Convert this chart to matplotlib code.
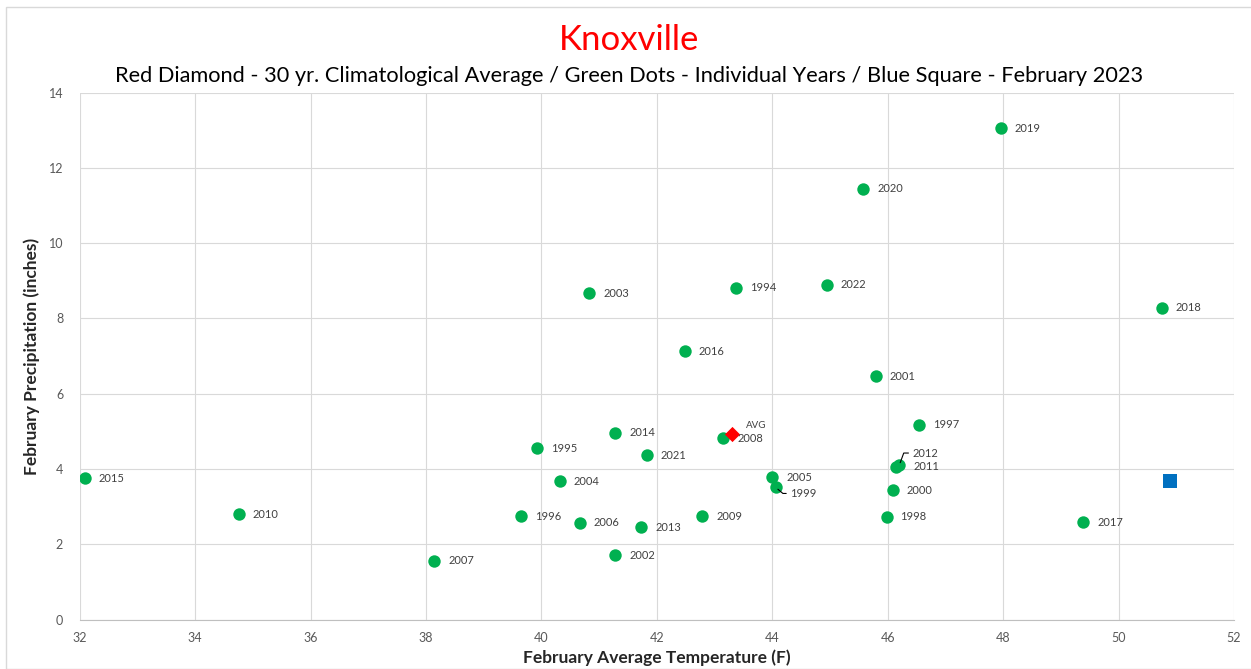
import matplotlib

matplotlib.use("Agg")
import matplotlib.pyplot as plt
from matplotlib.patches import Rectangle

plt.rcParams["font.family"] = ["Lato", "DejaVu Sans"]

# Individual years: February average temperature (F) and precipitation (in)
years = [
    "1994", "1995", "1996", "1997", "1998", "1999", "2000", "2001", "2002",
    "2003", "2004", "2005", "2006", "2007", "2008", "2009", "2010", "2011",
    "2012", "2013", "2014", "2015", "2016", "2017", "2018", "2019", "2020",
    "2021", "2022",
]
temps = [
    43.37, 39.93, 39.65, 46.54, 45.98, 44.06, 46.09, 45.79, 41.28,
    40.83, 40.32, 44.00, 40.66, 38.14, 43.15, 42.79, 34.76, 46.15,
    46.20, 41.73, 41.28, 32.09, 42.48, 49.39, 50.75, 47.96, 45.58,
    41.82, 44.94,
]
precip = [
    8.81, 4.55, 2.75, 5.18, 2.73, 3.51, 3.43, 6.47, 1.71,
    8.67, 3.67, 3.78, 2.57, 1.56, 4.82, 2.75, 2.80, 4.06,
    4.10, 2.45, 4.96, 3.76, 7.13, 2.59, 8.28, 13.05, 11.44,
    4.36, 8.89,
]

avg_temp, avg_precip = 43.30, 4.93
cur_temp, cur_precip = 50.89, 3.67

# label offsets (points) that differ from the default right-of-point spot
special_offsets = {"2012": (9.6, 8.8), "2011": (12.0, 0.0), "1999": (10.5, -4.3)}
leader_angles = {"2012": 70, "1999": -40}

fig = plt.figure(figsize=(12.51, 6.69), dpi=100)
ax = fig.add_axes([0.0638, 0.0738, 0.9226, 0.7879])

grid_c = "#d9d9d9"
ax.scatter(temps, precip, s=80, color="#00B050", zorder=3, linewidths=0)
ax.scatter([avg_temp], [avg_precip], s=60, marker="D", color="#FF0000",
           zorder=4, linewidths=0)
ax.scatter([cur_temp], [cur_precip], s=95, marker="s", color="#0070C0",
           zorder=4, linewidths=0)

for yr, x, y in zip(years, temps, precip):
    off = special_offsets.get(yr, (10, 0))
    kw = {}
    if yr in leader_angles:
        kw["arrowprops"] = dict(
            arrowstyle="-", color="black", lw=0.8, shrinkA=1, shrinkB=2,
            relpos=(0, 0.5),
            connectionstyle=f"angle,angleA=0,angleB={leader_angles[yr]},rad=0",
        )
    ax.annotate(yr, (x, y), xytext=off, textcoords="offset points",
                fontsize=8, color="#404040", ha="left", va="center",
                zorder=5, **kw)

ax.annotate("AVG", (avg_temp, avg_precip), xytext=(10, 6),
            textcoords="offset points", fontsize=7, color="#404040",
            ha="left", va="center")

ax.set_xlim(32, 52)
ax.set_ylim(0, 14)
ax.set_xticks(range(32, 53, 2))
ax.set_yticks(range(0, 15, 2))
ax.grid(True, color=grid_c, lw=0.8)
ax.set_axisbelow(True)
for side in ("top", "right", "left"):
    ax.spines[side].set_visible(False)
ax.spines["bottom"].set_color("#bfbfbf")
ax.tick_params(length=0, labelsize=9, labelcolor="#595959")
ax.tick_params(axis="y", pad=12)
ax.tick_params(axis="x", pad=9)

ax.set_xlabel("February Average Temperature (F)", fontsize=12.5,
              fontweight="bold", color="#262626", labelpad=4)
ax.set_ylabel("February Precipitation (inches)", fontsize=12.5,
              fontweight="bold", color="#262626", labelpad=6)

fig.text(0.503, 0.940, "Knoxville", fontsize=25, color="#FF0000",
         ha="center", va="center")
fig.text(0.503, 0.886,
         "Red Diamond - 30 yr. Climatological Average / Green Dots - "
         "Individual Years / Blue Square - February 2023",
         fontsize=15.7, color="black", ha="center", va="center")

fig.patches.append(Rectangle((0.005, 0.0), 1.2, 0.99, transform=fig.transFigure,
                             fill=False, edgecolor=grid_c, lw=1))

fig.savefig("out.png", dpi=100)
